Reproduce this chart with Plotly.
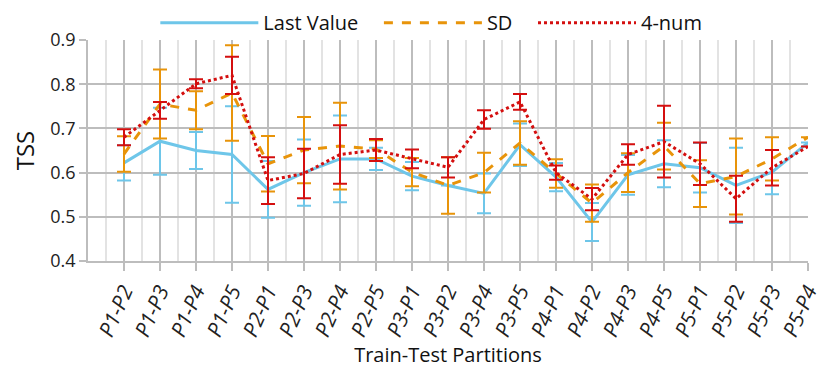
import plotly.graph_objects as go

partitions = ['P1-P2', 'P1-P3', 'P1-P4', 'P1-P5', 'P2-P1', 'P2-P3', 'P2-P4', 'P2-P5',
              'P3-P1', 'P3-P2', 'P3-P4', 'P3-P5', 'P4-P1', 'P4-P2', 'P4-P3', 'P4-P5',
              'P5-P1', 'P5-P2', 'P5-P3', 'P5-P4']

last_value = [0.622, 0.671, 0.650, 0.641, 0.562, 0.600, 0.631, 0.631, 0.592, 0.571,
              0.553, 0.663, 0.590, 0.488, 0.595, 0.620, 0.611, 0.571, 0.601, 0.668]
last_value_err = [0.040, 0.076, 0.042, 0.109, 0.064, 0.075, 0.098, 0.025, 0.032, 0.0,
                  0.045, 0.048, 0.032, 0.043, 0.045, 0.053, 0.056, 0.085, 0.050, 0.0]

sd = [0.642, 0.755, 0.741, 0.780, 0.620, 0.651, 0.660, 0.653, 0.601, 0.571,
      0.600, 0.667, 0.598, 0.531, 0.600, 0.660, 0.575, 0.591, 0.631, 0.680]
sd_err = [0.040, 0.078, 0.043, 0.108, 0.063, 0.075, 0.098, 0.020, 0.032, 0.064,
          0.045, 0.049, 0.032, 0.042, 0.044, 0.053, 0.053, 0.086, 0.049, 0.0]

four_num = [0.680, 0.741, 0.801, 0.820, 0.582, 0.598, 0.641, 0.651, 0.631, 0.612,
            0.720, 0.760, 0.600, 0.540, 0.641, 0.670, 0.620, 0.541, 0.611, 0.659]
four_num_err = [0.018, 0.019, 0.010, 0.042, 0.053, 0.056, 0.066, 0.025, 0.021, 0.023,
                0.021, 0.018, 0.016, 0.025, 0.023, 0.081, 0.048, 0.052, 0.040, 0.0]

x = list(range(len(partitions)))

pad = '\u00a0' * 3
series = [
    ('Last Value' + pad, last_value, last_value_err, '#6EC6E9', 'solid'),
    ('SD' + pad, sd, sd_err, '#E8940A', 'dash'),
    ('4-num', four_num, four_num_err, '#D40F0F', 'dot'),
]

fig = go.Figure()
for name, vals, errs, color, dash in series:
    fig.add_trace(go.Scatter(
        x=x, y=vals, name=name, mode='lines',
        line=dict(color=color, width=3, dash=dash),
        error_y=dict(type='data', array=errs, visible=True,
                     color=color, thickness=2, width=7),
    ))

grid = '#BDBDBD'
fig.update_xaxes(
    range=[-1, 19],
    tickmode='array', tickvals=x,
    ticktext=['<i>' + p + '</i>' for p in partitions],
    tickangle=-66,
    tickfont=dict(size=21, color='#222'),
    ticks='outside', ticklen=8, tickcolor=grid, tickwidth=1.5,
    showgrid=True, gridcolor=grid, gridwidth=1.5,
    minor=dict(dtick=0.5, tick0=-1, showgrid=True, gridcolor='#E3E3E3', gridwidth=1.5),
    showline=True, linecolor=grid, linewidth=1.5,
    zeroline=False, automargin=False,
    title=dict(text='Train-Test Partitions', font=dict(size=20, color='#111'), standoff=3),
)
fig.update_yaxes(
    range=[0.4, 0.9], dtick=0.1, tickformat='.1f',
    tickfont=dict(size=18, color='#222'),
    ticks='outside', ticklen=7, tickcolor=grid, tickwidth=1.5,
    showgrid=True, gridcolor=grid, gridwidth=1.5,
    showline=True, linecolor=grid, linewidth=1.5,
    zeroline=False, automargin=False,
    title=dict(text='TSS', font=dict(size=24, color='#111'), standoff=12),
)

# the page body adds an 8px offset, so the figure is sized to fit inside it
fig.update_layout(
    width=822, height=367,
    margin=dict(l=80, r=22, t=32, b=114, autoexpand=False),
    plot_bgcolor='white', paper_bgcolor='white',
    font=dict(family='Open Sans', color='#111'),
    showlegend=True,
    legend=dict(orientation='h', xref='container', x=0.515, xanchor='center',
                yref='container', y=0.96, yanchor='middle',
                font=dict(size=20), itemwidth=98, bgcolor='rgba(0,0,0,0)'),
)

fig.write_html('out.html')
